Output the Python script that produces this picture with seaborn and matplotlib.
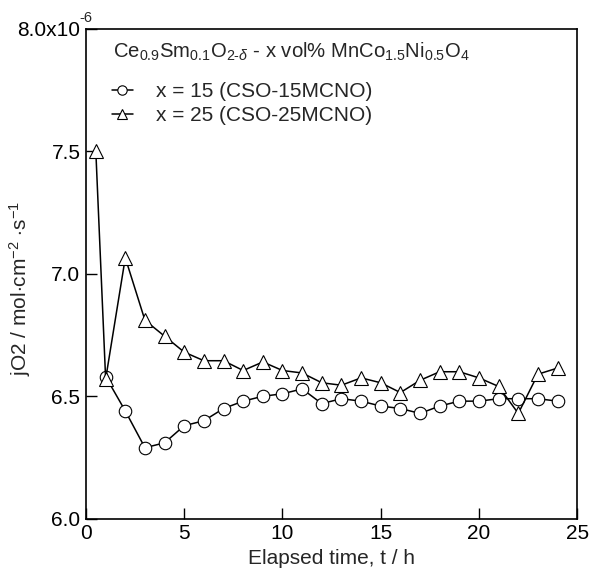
import pandas as pd
import seaborn as sns
import matplotlib.pyplot as plt

# Data (values in units of 1e-6 mol cm^-2 s^-1)
t_15 = [1, 2, 3, 4, 5, 6, 7, 8, 9, 10, 11, 12, 13, 14, 15, 16, 17, 18, 19, 20, 21, 22, 23, 24]
j_15 = [6.58, 6.44, 6.29, 6.31, 6.38, 6.40, 6.45, 6.48, 6.50, 6.51, 6.53, 6.47,
        6.49, 6.48, 6.46, 6.45, 6.43, 6.46, 6.48, 6.48, 6.49, 6.49, 6.49, 6.48]
t_25 = [0.5, 1, 2, 3, 4, 5, 6, 7, 8, 9, 10, 11, 12, 13, 14, 15, 16, 17, 18, 19, 20, 21, 22, 23, 24]
j_25 = [7.50, 6.57, 7.065, 6.81, 6.745, 6.68, 6.645, 6.645, 6.605, 6.64, 6.605, 6.595, 6.555,
        6.545, 6.575, 6.555, 6.515, 6.565, 6.60, 6.60, 6.575, 6.54, 6.43, 6.59, 6.615]
labels = ["x = 15 (CSO-15MCNO)", "x = 25 (CSO-25MCNO)"]
y_ticks = [6.0, 6.5, 7.0, 7.5, 8.0]
y_ticklabels = ["6.0", "6.5", "7.0", "7.5", "8.0x10"]
x_ticks = [0, 5, 10, 15, 20, 25]

sns.set_style("ticks")
plt.rcParams['font.family'] = ['Liberation Sans', 'DejaVu Sans']
plt.rcParams['mathtext.fontset'] = 'custom'
plt.rcParams['mathtext.rm'] = 'Liberation Sans'
plt.rcParams['mathtext.it'] = 'Liberation Sans:italic'
plt.rcParams['mathtext.sf'] = 'Liberation Sans'

df15 = pd.DataFrame({'t': t_15, 'j': j_15})
df25 = pd.DataFrame({'t': t_25, 'j': j_25})

fig = plt.figure(figsize=(5.89, 5.72), dpi=100)
ax = fig.add_axes([0.146, 0.093, 0.834, 0.857])

sns.lineplot(data=df15, x='t', y='j', ax=ax, color='black', lw=1.1, marker='o',
             markersize=9, markerfacecolor='white', markeredgecolor='black',
             markeredgewidth=0.8, label=labels[0])
sns.lineplot(data=df25, x='t', y='j', ax=ax, color='black', lw=1.1, marker='^',
             markersize=10, markerfacecolor='white', markeredgecolor='black',
             markeredgewidth=0.8, label=labels[1])

ax.set_xlim(0, 25)
ax.set_ylim(6.0, 8.0)
ax.set_xticks(x_ticks)
ax.set_yticks(y_ticks)
ax.set_yticklabels(y_ticklabels)
ax.tick_params(direction='in', length=8, width=1, labelsize=15, top=False, right=False, colors='black')
ax.tick_params(axis='x', pad=4)
ax.tick_params(axis='y', pad=4)
for s in ax.spines.values():
    s.set_linewidth(1.2)
    s.set_color('black')

# exponent of the top tick label
fig.text(79 / 589, 1 - 25 / 572, "-6", fontsize=10.5, ha='left', va='bottom')

ax.set_xlabel("Elapsed time, t / h", fontsize=15, labelpad=4)
ax.set_ylabel("jO2 / mol$\\cdot$cm$^{-2}$ $\\cdot$s$^{-1}$", fontsize=15)
ax.yaxis.set_label_coords(-0.108, 0.47)

ax.text(0.055, 0.975, "Ce$_{0.9}$Sm$_{0.1}$O$_{2\\text{-}\\delta}$ - x vol% MnCo$_{1.5}$Ni$_{0.5}$O$_4$",
        transform=ax.transAxes, fontsize=14.6, va='top', ha='left')

leg = ax.legend(loc='center left', bbox_to_anchor=(0.053, 0.847), frameon=False, fontsize=15,
                handlelength=1.0, handletextpad=1.1, labelspacing=0.22, borderaxespad=0,
                borderpad=0, markerscale=0.75)

fig.savefig("out.png", dpi=100)
